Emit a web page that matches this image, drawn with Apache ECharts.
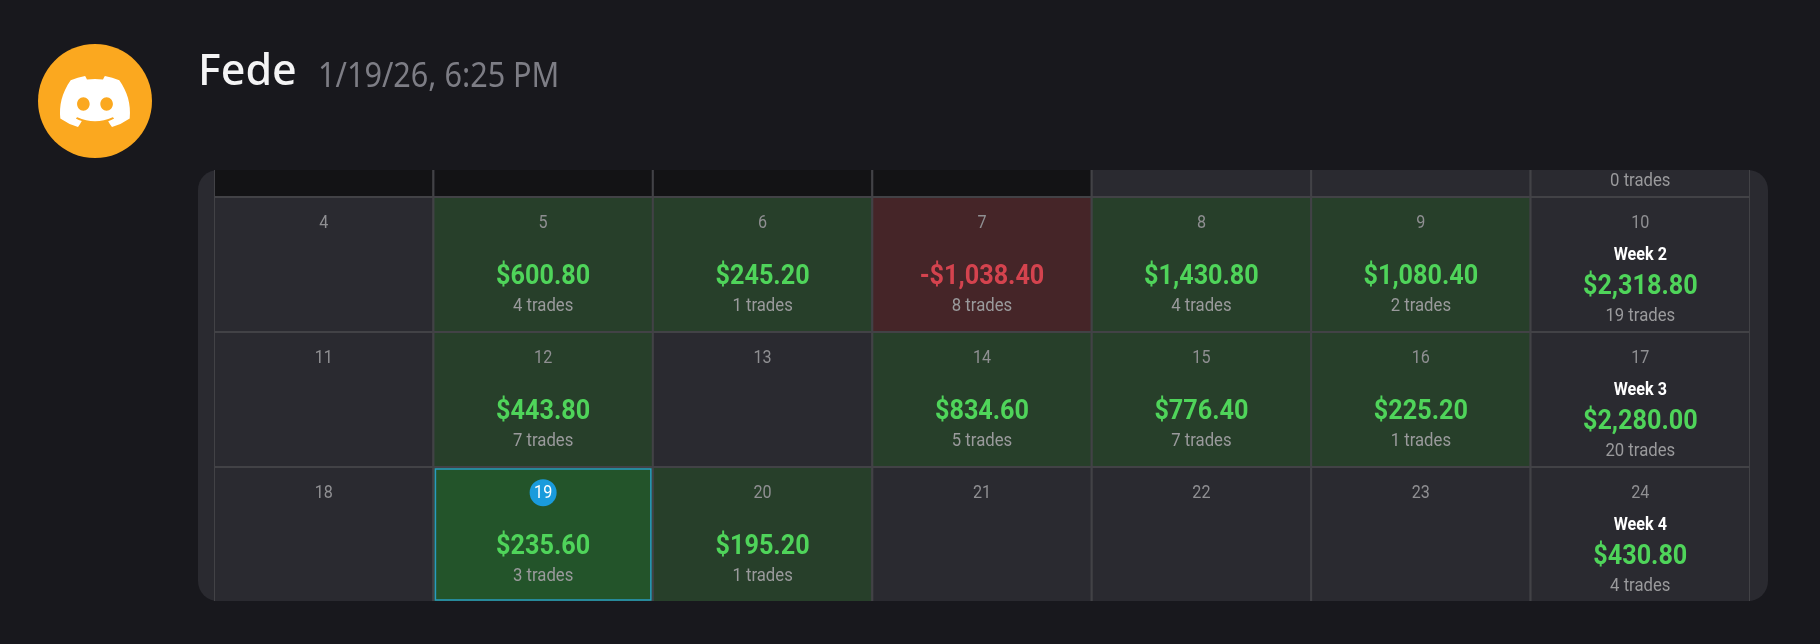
<!DOCTYPE html>
<html><head><meta charset="utf-8">
<style>html,body{margin:0;padding:0;background:#18181d}#c{width:1820px;height:644px}</style>
<script src="https://cdn.jsdelivr.net/npm/echarts@6/dist/echarts.min.js"></script>
</head><body><div id="c"></div>
<script>
const userName = 'Fede';
const timestamp = '1/19/26, 6:25 PM';
const rows = [-1, 0, 1, 2];
const dayNumbers = [
  ['', '', '', '', '', '', ''],
  [4, 5, 6, 7, 8, 9, 10],
  [11, 12, 13, 14, 15, 16, 17],
  [18, 19, 20, 21, 22, 23, 24]
];
const dailyPnl = [
  [null, null, null, null, null, null, null],
  [null, 600.80, 245.20, -1038.40, 1430.80, 1080.40, null],
  [null, 443.80, null, 834.60, 776.40, 225.20, null],
  [null, 235.60, 195.20, null, null, null, null]
];
const dailyTrades = [
  [null, null, null, null, null, null, 0],
  [null, 4, 1, 8, 4, 2, 19],
  [null, 7, null, 5, 7, 1, 20],
  [null, 3, 1, null, null, null, 4]
];
const weekLabels = [null, 'Week 2', 'Week 3', 'Week 4'];
const weekTotals = [null, 2318.80, 2280.00, 430.80];
const outsideMonthCells = 4;
const todayNumber = 19;
const weekColumn = 6;

const COL = {
  bg:'#18181d', card:'#2a2a30', outside:'#131315', gain:'#273f2a', loss:'#452528', today:'#23542a',
  line:'#424246', todayLine:'#2a9ac0', green:'#4fd45a', red:'#d4434e', date:'#8f8f92', trades:'#9a9a9c', badge:'#1a9bdc'
};
const money = v => (v < 0 ? '-$' : '$') + Math.abs(v).toLocaleString('en-US', {minimumFractionDigits:2, maximumFractionDigits:2});

const cells = [];
rows.forEach((row, r) => {
  for (let c = 0; c < 7; c++) cells.push([c, row, r]);
});

function label(x, y, text, size, weight, fill, sx) {
  return {type:'text', x, y, scaleX:sx, scaleY:1, z2:5,
    style:{x:0, y:0, text:String(text), align:'center', verticalAlign:'middle', fill,
      font: weight + ' ' + size + 'px Roboto'}};
}

function renderCell(params, api) {
  const c = api.value(0), row = api.value(1), r = api.value(2);
  const a = api.coord([c, row]), b = api.coord([c + 1, row + 1]);
  const w = b[0] - a[0], h = b[1] - a[1], cx = a[0] + w / 2;
  const day = dayNumbers[r][c], pnl = dailyPnl[r][c], tr = dailyTrades[r][c];
  const isToday = day === todayNumber;
  let fill = COL.card;
  if (r === 0 && c < outsideMonthCells) fill = COL.outside;
  if (pnl !== null) fill = pnl < 0 ? COL.loss : COL.gain;
  if (isToday) fill = COL.today;
  const kids = [{type:'rect', z2:1, shape:{x:a[0], y:a[1], width:w, height:h},
    style:{fill, stroke:COL.line, lineWidth:2}}];
  const dy = f => a[1] + h * f;
  if (day !== '') {
    if (isToday) kids.push({type:'circle', z2:4, shape:{cx, cy:dy(0.19), r:13.5}, style:{fill:COL.badge}});
    kids.push(label(cx, dy(0.195), day, 19, 400, isToday ? '#fff' : COL.date, 0.85));
  }
  if (c === weekColumn) {
    if (weekLabels[r]) {
      kids.push(label(cx, dy(0.43), weekLabels[r], 19, 700, '#fff', 0.85));
      kids.push(label(cx, dy(0.67), money(weekTotals[r]), 28, 700, COL.green, 0.9));
    }
    if (tr !== null) kids.push(label(cx, dy(0.885), tr + ' trades', 19, 400, COL.trades, 0.88));
  } else if (pnl !== null) {
    kids.push(label(cx, dy(0.59), money(pnl), 28, 700, pnl < 0 ? COL.red : COL.green, 0.9));
    kids.push(label(cx, dy(0.81), tr + ' trades', 19, 400, COL.trades, 0.88));
  }
  if (isToday) kids.push({type:'rect', z2:3, shape:{x:a[0]+2, y:a[1]+2, width:w-4, height:h-4},
    style:{fill:'none', stroke:COL.todayLine, lineWidth:1.5}});
  return {type:'group', children:kids};
}

const discord = 'M107.7,8.07A105.15,105.15,0,0,0,81.47,0a72.06,72.06,0,0,0-3.36,6.83A97.68,97.68,0,0,0,49,6.83,72.37,72.37,0,0,0,45.64,0,105.89,105.89,0,0,0,19.39,8.09C2.79,32.65-1.71,56.6.54,80.21h0A105.73,105.73,0,0,0,32.71,96.36,77.7,77.7,0,0,0,39.6,85.25a68.42,68.42,0,0,1-10.85-5.18c.91-.66,1.8-1.34,2.66-2a75.57,75.57,0,0,0,64.32,0c.87.71,1.76,1.39,2.66,2a68.68,68.68,0,0,1-10.87,5.19,77,77,0,0,0,6.89,11.1A105.25,105.25,0,0,0,126.6,80.22h0C129.24,52.84,122.09,29.11,107.7,8.07ZM42.45,65.69C36.18,65.69,31,60,31,53s5-12.74,11.43-12.74S54,46,53.89,53,48.84,65.69,42.45,65.69Zm42.24,0C78.41,65.69,73.25,60,73.25,53s5-12.74,11.44-12.74S96.23,46,96.12,53,91.08,65.69,84.69,65.69Z';

const chart = echarts.init(document.getElementById('c'), null, {renderer:'canvas'});
chart.setOption({
  animation:false,
  backgroundColor:COL.bg,
  grid:{left:214, top:170, width:1536, height:431, containLabel:false},
  xAxis:{type:'value', min:0, max:7, show:false},
  yAxis:{type:'value', min:-0.2, max:431 / 135 - 0.2, inverse:true, show:false},
  graphic:[
    {type:'rect', z:-1, silent:true, shape:{x:198, y:170, width:1570, height:431, r:20}, style:{fill:COL.card}},
    {type:'circle', silent:true, shape:{cx:95, cy:101, r:57}, style:{fill:'#fba81f'}},
    {type:'text', silent:true, x:198, y:73, style:{text:userName, fill:'#f4f4f5', font:'500 43px "Noto Sans"', verticalAlign:'middle'}},
    {type:'text', silent:true, x:318, y:77, scaleX:0.9, style:{text:timestamp, fill:'#7d7d85', font:'400 34px "Noto Sans"', verticalAlign:'middle'}}
  ],
  series:[
    {type:'custom', coordinateSystem:'cartesian2d', clip:true, silent:true,
      encode:{x:0, y:1}, data:cells, renderItem:renderCell},
    {type:'custom', coordinateSystem:'none', silent:true, z:10, data:[[0]],
      renderItem:() => ({type:'path', shape:{pathData:discord, x:60, y:76, width:70, height:51, layout:'cover'}, style:{fill:'#fff'}})}
  ]
});
</script></body></html>
